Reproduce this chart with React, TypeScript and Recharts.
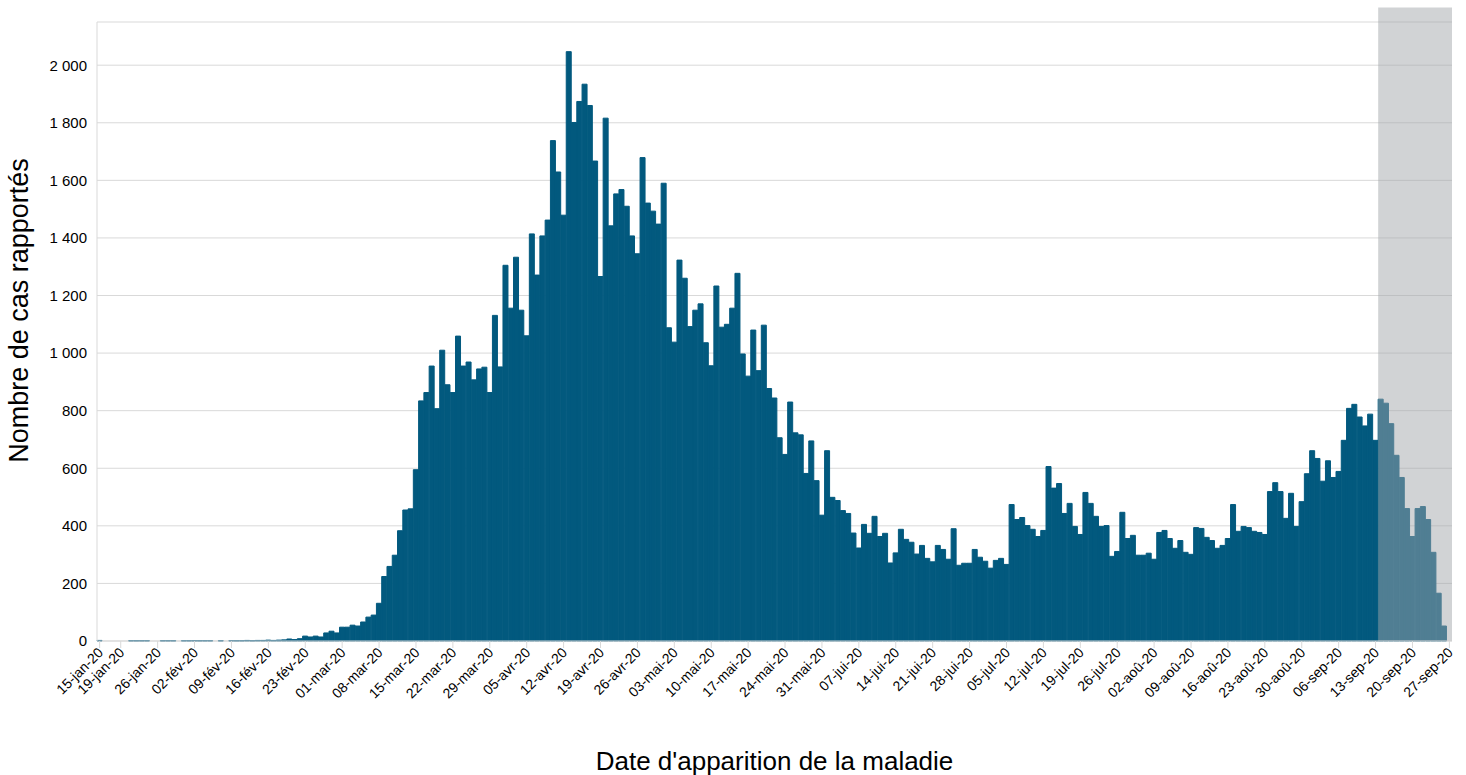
import React from 'react';
import { BarChart, Bar, XAxis, YAxis, CartesianGrid, ReferenceArea } from 'recharts';

// months covered by the chart, with first and last day shown
const monthNames = ['jan', 'fév', 'mar', 'avr', 'mai', 'jui', 'jul', 'aoû', 'sep'];
const monthFirstDay = [15, 1, 1, 1, 1, 1, 1, 1, 1];
const monthLastDay = [31, 29, 31, 30, 31, 30, 31, 31, 27];

// one category per day: 15-jan-20 .. 27-sep-20
const days: string[] = [];
monthNames.forEach((m, i) => {
  for (let d = monthFirstDay[i]; d <= monthLastDay[i]; d++) {
    days.push(`${String(d).padStart(2, '0')}-${m}-20`);
  }
});

// daily reported cases
const cases = [
  2, 0, 0, 0, 0, 0, 1, 1, 1, 1, 0, 0, 1, 1, 1, 0, 1,
  1, 1, 1, 1, 1, 0, 1, 0, 1, 1, 1, 2, 1, 2, 2, 3, 2, 3, 4, 7, 5, 8, 17, 14, 17, 14, 28, 34, 28,
  48, 48, 55, 52, 66, 83, 90, 131, 224, 259, 298, 383, 455, 459, 595, 834, 863, 955, 807, 1010, 890, 863, 1059, 955, 969, 907, 945, 951, 863, 1131, 952,
  1305, 1156, 1333, 1149, 1060, 1414, 1271, 1407, 1462, 1738, 1629, 1479, 2047, 1801, 1874, 1934, 1860, 1667, 1266, 1816, 1442, 1553, 1568, 1510, 1407, 1345, 1679, 1521, 1493, 1448,
  1590, 1088, 1038, 1323, 1260, 1092, 1149, 1171, 1036, 956, 1233, 1090, 1100, 1156, 1277, 997, 920, 1080, 939, 1097, 877, 844, 706, 648, 830, 723, 716, 582, 695, 557, 437,
  661, 499, 488, 453, 443, 375, 323, 405, 374, 433, 363, 374, 271, 306, 388, 353, 343, 302, 332, 287, 275, 332, 318, 284, 390, 263, 270, 270, 318, 291,
  277, 253, 280, 287, 266, 474, 422, 429, 401, 388, 363, 384, 606, 531, 547, 443, 478, 398, 370, 516, 478, 433, 398, 401, 294, 311, 447, 356, 367, 298, 298,
  305, 284, 377, 384, 356, 322, 349, 308, 301, 394, 391, 360, 349, 322, 332, 356, 474, 381, 398, 394, 381, 377, 370, 519, 550, 519, 426, 513, 398, 484, 581,
  661, 634, 555, 626, 568, 589, 697, 808, 822, 778, 747, 788, 697, 840, 826, 755, 645, 568, 460, 363, 460, 467, 422, 308, 166, 52, 0,
];

const tickLabels = [
  '15-jan-20', '19-jan-20', '26-jan-20', '02-fév-20', '09-fév-20', '16-fév-20', '23-fév-20',
  '01-mar-20', '08-mar-20', '15-mar-20', '22-mar-20', '29-mar-20', '05-avr-20', '12-avr-20',
  '19-avr-20', '26-avr-20', '03-mai-20', '10-mai-20', '17-mai-20', '24-mai-20', '31-mai-20',
  '07-jui-20', '14-jui-20', '21-jui-20', '28-jui-20', '05-jul-20', '12-jul-20', '19-jul-20',
  '26-jul-20', '02-aoû-20', '09-aoû-20', '16-aoû-20', '23-aoû-20', '30-aoû-20', '06-sep-20',
  '13-sep-20', '20-sep-20', '27-sep-20',
];

const yTicks = [0, 200, 400, 600, 800, 1000, 1200, 1400, 1600, 1800, 2000];

// shaded (incomplete) period
const shadeFrom = '14-sep-20';

const data = days.map((day, i) => ({ day, cases: cases[i] }));

const FONT = '"Liberation Sans", Arial, sans-serif';
const BAR = '#02597e';

const fmt = (v: number) =>
  v >= 1000 ? `${Math.floor(v / 1000)} ${String(v % 1000).padStart(3, '0')}` : String(v);

const XTick = ({ x, y, payload }: any) => {
  const tx = x + 1;
  return (
    <text
      x={tx}
      y={y}
      dy="0.35em"
      textAnchor="end"
      transform={`rotate(-45 ${tx} ${y})`}
      fontSize={14}
      fontFamily={FONT}
      fill="#000"
    >
      {payload.value}
    </text>
  );
};

const YTitle = (props: any) => {
  const vb = props.viewBox || { x: 0, y: 22, width: 97, height: 619 };
  const cx = vb.x + 19;
  const cy = vb.y + vb.height / 2 - 21;
  return (
    <text
      x={cx}
      y={cy}
      transform={`rotate(-90 ${cx} ${cy})`}
      textAnchor="middle"
      dominantBaseline="central"
      fontSize={27}
      fontFamily={FONT}
      fill="#000"
    >
      Nombre de cas rapportés
    </text>
  );
};

const XTitle = (props: any) => {
  const vb = props.viewBox || { x: 97, y: 641, width: 1355, height: 134 };
  return (
    <text
      x={vb.x + vb.width / 2}
      y={vb.y + vb.height - 5}
      textAnchor="middle"
      fontSize={26}
      fontFamily={FONT}
      fill="#000"
    >
      Date d'apparition de la maladie
    </text>
  );
};

export default function App() {
  return (
    <div style={{ position: 'absolute', left: 0, top: 0, width: 1466, height: 775, background: '#fff' }}>
      <BarChart
        width={1466}
        height={775}
        data={data}
        barCategoryGap={0}
        barGap={0}
        margin={{ top: 22, right: 14, left: 0, bottom: 0 }}
      >
        <CartesianGrid vertical={false} stroke="#d9d9d9" />
        <XAxis
          dataKey="day"
          ticks={tickLabels}
          interval={0}
          height={134}
          tick={<XTick />}
          tickSize={7}
          tickMargin={2}
          tickLine={{ stroke: '#d9d9d9' }}
          axisLine={{ stroke: '#d9d9d9' }}
          label={{ content: <XTitle /> }}
        />
        <YAxis
          width={97}
          domain={[0, 2150]}
          ticks={yTicks}
          tickFormatter={fmt}
          tickLine={false}
          tickSize={0}
          tickMargin={10}
          axisLine={{ stroke: '#d9d9d9' }}
          tick={{ fontSize: 15, fontFamily: FONT, fill: '#000' }}
          label={{ content: <YTitle /> }}
        />
        <Bar dataKey="cases" fill={BAR} stroke={BAR} strokeWidth={1} isAnimationActive={false} />
        <ReferenceArea
          x1={shadeFrom}
          y1={0}
          y2={2200}
          ifOverflow="visible"
          fill="rgb(161,165,169)"
          fillOpacity={0.49}
          stroke="none"
          zIndex={350}
        />
      </BarChart>
    </div>
  );
}
